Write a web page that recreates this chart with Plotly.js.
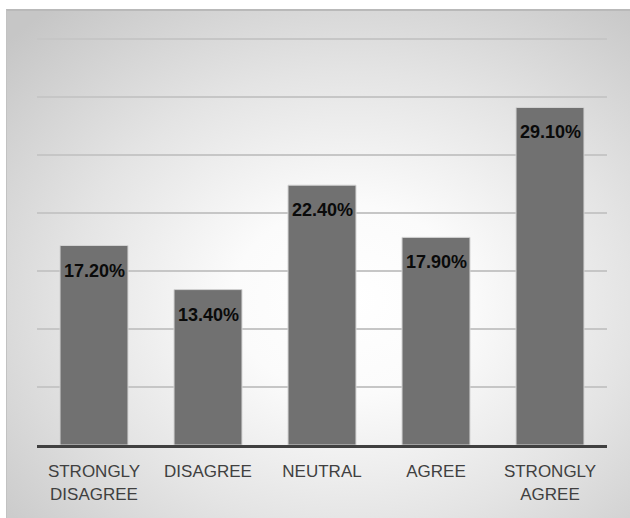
<!DOCTYPE html>
<html>
<head>
<meta charset="utf-8">
<script src="https://cdn.plot.ly/plotly-3.0.1.min.js"></script>
<style>
  html, body { margin: 0; padding: 0; background: #ffffff; }
  #frame {
    position: absolute; left: 6px; top: 9px; width: 624px; height: 509px;
    box-sizing: border-box;
    border-top: 2px solid #b9b9b9; border-left: 1px solid #c2c2c2;
    background: radial-gradient(ellipse 75% 75% at 55% 57%, #ffffff 0%, #fbfbfb 25%, #e4e4e4 60%, #c6c6c6 100%);
  }
  #chart { position: absolute; left: 0; top: 0; width: 630px; height: 518px; }
</style>
</head>
<body>
<div id="frame"></div>
<div id="chart"></div>
<script>
// Survey responses by level of agreement (percent of respondents)
const categories = ["STRONGLY<br>DISAGREE", "DISAGREE", "NEUTRAL", "AGREE", "STRONGLY<br>AGREE"];
const shares = [17.2, 13.4, 22.4, 17.9, 29.1];
const shareLabels = ["17.20%", "13.40%", "22.40%", "17.90%", "29.10%"];

const trace = {
  type: "bar",
  x: categories,
  y: shares,
  marker: { color: "#717171", line: { color: "#d2d2d2", width: 1 } },
  hoverinfo: "skip"
};

const labels = categories.map((c, i) => ({
  x: c, y: shares[i], xref: "x", yref: "y",
  text: "<b>" + shareLabels[i] + "</b>",
  showarrow: false, yanchor: "middle", yshift: -25,
  font: { family: "Liberation Sans, Arial, sans-serif", size: 18, color: "#0a0a0a" }
}));

const layout = {
  width: 630, height: 518,
  margin: { l: 37, r: 23, t: 38, b: 73 },
  paper_bgcolor: "rgba(0,0,0,0)",
  plot_bgcolor: "rgba(0,0,0,0)",
  showlegend: false,
  bargap: 0.404,
  font: { family: "Liberation Sans, Arial, sans-serif" },
  xaxis: {
    type: "category",
    showline: true, linecolor: "#404040", linewidth: 3,
    ticks: "", showgrid: false,
    ticklabelstandoff: 9,
    tickfont: { size: 17, color: "#404040" }
  },
  yaxis: {
    range: [0, 35.09], tickvals: [5, 10, 15, 20, 25, 30, 35],
    showticklabels: false, ticks: "",
    showgrid: true, gridcolor: "#c6c6c6", gridwidth: 1.5,
    zeroline: false, showline: false
  },
  annotations: labels
};

Plotly.newPlot("chart", [trace], layout, { staticPlot: true, displayModeBar: false });
</script>
</body>
</html>
